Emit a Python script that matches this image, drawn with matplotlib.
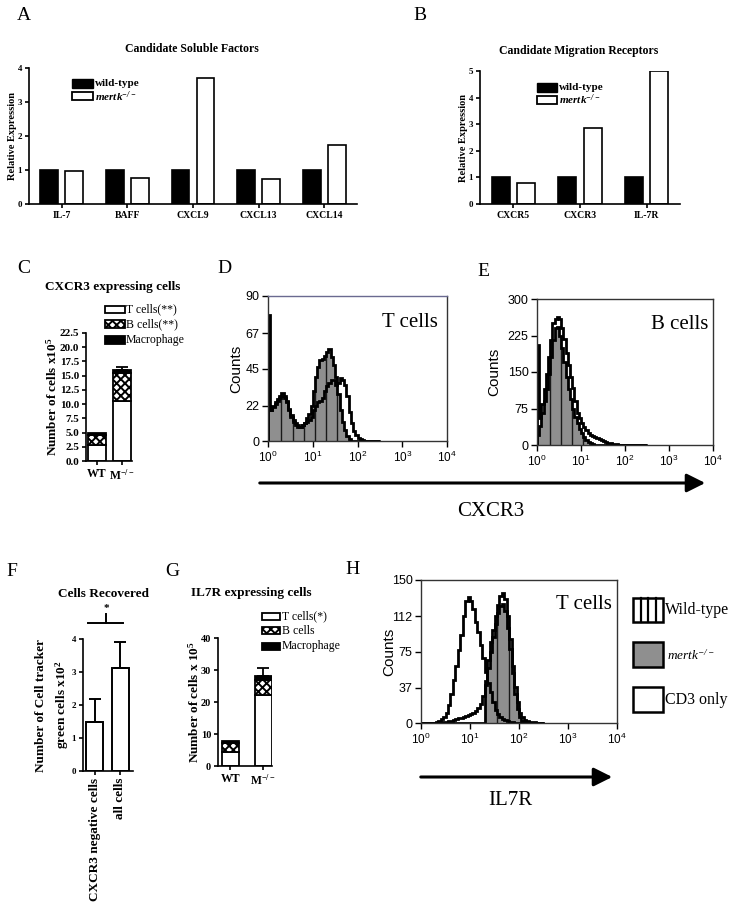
import numpy as np
import matplotlib
matplotlib.use('Agg')
import matplotlib.pyplot as plt
from matplotlib.patches import Rectangle
from matplotlib.lines import Line2D

plt.rcParams['font.family'] = 'Liberation Serif'
plt.rcParams['hatch.linewidth'] = 1.4
plt.rcParams['axes.linewidth'] = 1.2

W, H = 732, 914
SANS = 'Liberation Sans'
GREY = '#8f8f8f'

# ---- data ----
soluble = ['IL-7', 'BAFF', 'CXCL9', 'CXCL13', 'CXCL14']
soluble_wt = [1, 1, 1, 1, 1]
soluble_ko = [0.97, 0.77, 3.72, 0.75, 1.75]

receptors = ['CXCR5', 'CXCR3', 'IL-7R']
receptors_wt = [1, 1, 1]
receptors_ko = [0.8, 2.87, 5.0]

strains = ['WT', r'$\mathregular{M^{-/-}}$']
cxcr3_t = [2.75, 10.6]
cxcr3_b = [1.9, 4.8]
cxcr3_mac = [0.3, 0.6]
cxcr3_err = [0.0, 0.5]

recovered = ['CXCR3 negative cells', 'all cells']
recovered_mean = [1.5, 3.13]
recovered_err = [0.68, 0.78]

il7r_t = [4.4, 22.2]
il7r_b = [2.8, 4.7]
il7r_mac = [0.5, 1.2]
il7r_err = [0.0, 2.6]

# flow histograms, channel bins 10^0 .. 10^2.5
hist_edges = 10 ** np.linspace(0, 2.5, 51)
d_fill = [78, 19, 22, 24, 26, 28, 30, 28, 25, 20,
          16, 13, 11, 10, 9, 10, 11, 14, 17, 22,
          31, 40, 46, 50, 51, 53, 55, 57, 52, 47,
          40, 29, 19, 12, 7, 3, 1, 0, 0, 0,
          0, 0, 0, 0, 0, 0, 0, 0, 0, 0]
d_open = [20, 19, 21, 23, 25, 27, 28, 27, 24, 19,
          15, 12, 10, 9, 9, 10, 11, 12, 13, 15,
          19, 22, 24, 25, 27, 31, 34, 36, 38, 38,
          35, 36, 39, 38, 35, 28, 18, 11, 6, 4,
          2, 1, 0.5, 0, 0, 0, 0, 0, 0, 0]
e_fill = [20, 40, 65, 90, 115, 145, 180, 215, 240, 243,
          225, 200, 170, 140, 115, 95, 75, 58, 45, 32,
          24, 17, 11, 7, 4, 2, 1, 0, 0, 0,
          0, 0, 0, 0, 0, 0, 0, 0, 0, 0,
          0, 0, 0, 0, 0, 0, 0, 0, 0, 0]
e_open = [205, 55, 85, 115, 145, 180, 215, 250, 258, 262,
          258, 240, 218, 190, 165, 140, 118, 90, 65, 55,
          46, 38, 30, 25, 21, 19, 16, 14, 12, 10,
          8, 6, 5, 4, 3, 2, 2, 1, 1, 0.5,
          0, 0, 0, 0, 0, 0, 0, 0, 0, 0]
h_cd3 = [0, 0, 0, 0, 0, 0, 1, 2, 4, 6,
         11, 19, 30, 45, 60, 77, 92, 112, 128, 132,
         128, 120, 106, 95, 82, 68, 53, 42, 32, 22,
         14, 9, 6, 4, 3, 2, 1.5, 1, 0.5, 0,
         0, 0, 0, 0, 0, 0, 0, 0, 0, 0]
h_wt = [0, 0, 0, 0, 0, 0, 0, 0, 0, 1,
        1, 2, 2, 3, 4, 5, 5, 6, 7, 8,
        9, 11, 13, 16, 20, 28, 44, 66, 85, 98,
        112, 124, 133, 136, 130, 112, 88, 60, 38, 22,
        11, 6, 3, 2, 1.5, 1, 1, 0.5, 0, 0]
h_ko = [0, 0, 0, 0, 0, 0, 0, 0, 0, 0,
        0, 0, 0, 0, 0, 0, 0, 0, 0, 0,
        0, 0, 0, 0, 0, 0, 40, 58, 75, 90,
        104, 115, 123, 125, 118, 100, 78, 52, 30, 15,
        6, 2, 0, 0, 0, 0, 0, 0, 0, 0]

fig = plt.figure(figsize=(W / 100, H / 100), dpi=100)


def add_ax(l, r, t, b):
    return fig.add_axes([l / W, 1 - b / H, (r - l) / W, (b - t) / H])


def ftext(x, y, s, **kw):
    return fig.text(x / W, 1 - y / H, s, **kw)


def key(x0, y0, x1, y1, **kw):
    fig.add_artist(Rectangle((x0 / W, 1 - y1 / H), (x1 - x0) / W, (y1 - y0) / H,
                             transform=fig.transFigure, **kw))


def arrow(x0, x1, y):
    fig.add_artist(matplotlib.patches.FancyArrowPatch(
        (x0 / W, 1 - y / H), (x1 / W, 1 - y / H), transform=fig.transFigure,
        arrowstyle='-|>,head_length=0.8,head_width=0.4', mutation_scale=14,
        lw=2.2, color='black'))


def clean(ax):
    ax.spines['top'].set_visible(False)
    ax.spines['right'].set_visible(False)
    ax.tick_params(direction='out', length=3, width=1.2, pad=2)


# ---- A / B ----
def expr_panel(ax, names, wt, ko, ymax, lab_x):
    x = np.arange(len(names))
    ax.bar(x - 0.19, wt, 0.27, color='black', edgecolor='black', lw=1.2)
    ax.bar(x + 0.19, ko, 0.27, color='white', edgecolor='black', lw=1.2)
    ax.set_xlim(-0.5, len(names) - 0.5)
    ax.set_ylim(0, ymax)
    ax.set_xticks(x, names, fontsize=7, fontweight='bold')
    ax.set_yticks(range(ymax + 1), [str(v) for v in range(ymax + 1)],
                  fontsize=6.5, fontweight='bold')
    clean(ax)
    ax.set_ylabel('Relative Expression', fontsize=7.5, fontweight='bold')
    ax.yaxis.set_label_coords(lab_x, 0.5)


axA = add_ax(29, 357, 68, 204)
expr_panel(axA, soluble, soluble_wt, soluble_ko, 4, -0.036)
ftext(192, 52, 'Candidate Soluble Factors', fontsize=8.5, fontweight='bold', ha='center')
key(72, 79, 93, 88, fc='black', ec='black', lw=1)
key(72, 92, 93, 100, fc='white', ec='black', lw=1.3)
ftext(95, 84, 'wild-type', fontsize=8, fontweight='bold', va='center')
ftext(95, 96.5, r'$\mathregular{mertk^{-/-}}$', fontsize=8, fontweight='bold',
      style='italic', va='center')

axB = add_ax(480, 680, 71, 204)
expr_panel(axB, receptors, receptors_wt, receptors_ko, 5, -0.06)
ftext(579, 54, 'Candidate Migration Receptors', fontsize=8.5, fontweight='bold', ha='center')
key(537, 83, 557, 92, fc='black', ec='black', lw=1)
key(537, 96, 557, 104, fc='white', ec='black', lw=1.3)
ftext(559, 87.5, 'wild-type', fontsize=8, fontweight='bold', va='center')
ftext(559, 100, r'$\mathregular{mertk^{-/-}}$', fontsize=8, fontweight='bold',
      style='italic', va='center')


# ---- stacked bars C / G ----
def stacked(ax, t, b, mac, err, width, ymax, yticks, ylabels, ylab, lab_x, fs):
    x = np.arange(len(t))
    ax.bar(x, t, width, color='white', edgecolor='black', lw=1.3)
    ax.bar(x, b, width, bottom=t, color='white', edgecolor='black', hatch='xxxx', lw=1.3)
    top2 = np.add(t, b)
    ax.bar(x, mac, width, bottom=top2, color='black', edgecolor='black', lw=1.3)
    tot = top2 + np.array(mac)
    ax.errorbar(x[1:], tot[1:], yerr=[[0], err[1:]], fmt='none', ecolor='black',
                capsize=4, elinewidth=1.3, capthick=1.3)
    ax.set_ylim(0, ymax)
    ax.set_yticks(yticks, ylabels, fontsize=fs, fontweight='bold')
    ax.set_xticks(x, strains, fontsize=8.5, fontweight='bold')
    clean(ax)
    ax.set_ylabel(ylab, fontsize=9.5, fontweight='bold')
    ax.yaxis.set_label_coords(lab_x, 0.5)
    return ax


axC = add_ax(86, 132, 333, 461)
stacked(axC, cxcr3_t, cxcr3_b, cxcr3_mac, cxcr3_err, 0.72, 22.5,
        np.arange(0, 23, 2.5), ['%.1f' % v for v in np.arange(0, 23, 2.5)],
        r'Number of cells x10$\mathregular{^{5}}$', -0.57, 8)
axC.set_xlim(-0.44, 1.4)
ftext(113, 290, 'CXCR3 expressing cells', fontsize=9.5, fontweight='bold', ha='center')
key(105, 306, 125, 313, fc='white', ec='black', lw=1.3)
key(105, 320, 125, 328, fc='white', ec='black', lw=1.3, hatch='xxxx')
key(105, 336, 125, 344, fc='black', ec='black', lw=1.3)
ftext(126, 309.5, 'T cells(**)', fontsize=8.5, va='center')
ftext(126, 324, 'B cells(**)', fontsize=8.5, va='center')
ftext(126, 340, 'Macrophage', fontsize=8.5, va='center')

axG = add_ax(218, 272, 638, 766)
stacked(axG, il7r_t, il7r_b, il7r_mac, il7r_err, 0.5, 40,
        [0, 10, 20, 30, 40], ['0', '10', '20', '30', '40'],
        r'Number of cells x 10$\mathregular{^{5}}$', -0.3, 7.5)
axG.set_xlim(-0.37, 1.26)
ftext(251, 596, 'IL7R expressing cells', fontsize=9.5, fontweight='bold', ha='center')
key(262, 613, 280, 620, fc='white', ec='black', lw=1.3)
key(262, 627, 280, 634, fc='white', ec='black', lw=1.3, hatch='xxxx')
key(262, 643, 280, 650, fc='black', ec='black', lw=1.3)
ftext(282, 616.5, 'T cells(*)', fontsize=8.5, va='center')
ftext(282, 630.5, 'B cells', fontsize=8.5, va='center')
ftext(282, 646.5, 'Macrophage', fontsize=8.5, va='center')

# ---- F ----
axF = add_ax(83, 133, 639, 771)
xf = np.arange(len(recovered))
axF.bar(xf, recovered_mean, 0.67, color='white', edgecolor='black', lw=1.4)
axF.errorbar(xf, recovered_mean, yerr=[np.zeros(len(xf)), recovered_err], fmt='none',
             ecolor='black', capsize=4.5, elinewidth=1.4, capthick=1.4)
axF.set_xlim(-0.45, 1.5)
axF.set_ylim(0, 4)
axF.set_yticks(range(5), [str(v) for v in range(5)], fontsize=6.5, fontweight='bold')
axF.set_xticks(xf, recovered, fontsize=9.5, fontweight='bold', rotation=90)
clean(axF)
axF.set_ylabel('Number of Cell tracker\n' + r'green cells x10$\mathregular{^{2}}$',
               fontsize=9.5, fontweight='bold', linespacing=1.5)
axF.yaxis.set_label_coords(-0.24, 0.5)
axF.plot([-0.25, 1.12], [4.48, 4.48], color='black', lw=1.4, clip_on=False)
axF.plot([0.45, 0.45], [4.48, 4.76], color='black', lw=1.4, clip_on=False)
axF.text(0.45, 4.78, '*', fontsize=8, fontweight='bold', ha='center', va='bottom')
ftext(104, 597, 'Cells Recovered', fontsize=9.5, fontweight='bold', ha='center')

# ---- flow histograms ----
stripe_x = 10 ** np.arange(0.3, 2.5, 0.25)


def hist_panel(ax, fills, opens, ymax, yticks, name, name_xy, lab_x):
    ax.set_xscale('log')
    for c in fills:
        p = ax.stairs(c, hist_edges, fill=True, facecolor=GREY, edgecolor='none', zorder=1)
        vl = ax.vlines(stripe_x, 0, ymax, colors='#1a1a1a', lw=1.0, zorder=1.5)
        vl.set_clip_path(p)
    for c in fills + opens:
        ax.stairs(c, hist_edges, color='black', lw=2.0, zorder=2)
    ax.set_xlim(1, 1e4)
    ax.set_ylim(0, ymax)
    ax.xaxis.set_minor_locator(matplotlib.ticker.NullLocator())
    ax.set_xticks([1, 10, 100, 1000, 10000],
                  [r'$\mathregular{10^{%d}}$' % i for i in range(5)],
                  fontsize=8.5, fontfamily=SANS)
    ax.set_yticks(yticks, [str(v) for v in yticks], fontsize=9, fontfamily=SANS)
    ax.tick_params(direction='out', length=4, width=1.0, pad=2)
    for s in ax.spines.values():
        s.set_linewidth(1.0)
        s.set_color('#333333')
    ax.set_ylabel('Counts', fontsize=11, fontfamily=SANS)
    ax.yaxis.set_label_coords(lab_x, 0.5)
    ftext(name_xy[0], name_xy[1], name, fontsize=15, ha='right')


axD = add_ax(268, 447, 296, 441)
hist_panel(axD, [d_fill], [d_open], 90, [0, 22, 45, 67, 90], 'T cells', (438, 327), -0.14)
axD.spines['top'].set_color('#6a6a90')

axE = add_ax(537, 713, 299, 445)
hist_panel(axE, [e_fill], [e_open], 300, [0, 75, 150, 225, 300], 'B cells', (708, 329), -0.205)

axH = add_ax(421, 617, 580, 723)
hist_panel(axH, [h_ko], [h_wt, h_cd3], 150, [0, 37, 75, 112, 150], 'T cells', (612, 609), -0.125)

arrow(257, 708, 483)
ftext(491, 516, 'CXCR3', fontsize=15, ha='center')
arrow(418, 615, 777)
ftext(510, 805, 'IL7R', fontsize=15, ha='center')

# H legend
key(633, 598, 663, 622, fc='white', ec='black', lw=1.8)
for xv in (640.5, 648, 655.5):
    fig.add_artist(Line2D([xv / W, xv / W], [1 - 598 / H, 1 - 622 / H],
                          transform=fig.transFigure, color='black', lw=1.6))
key(633, 642, 663, 667, fc=GREY, ec='black', lw=1.8)
key(633, 687, 663, 712, fc='white', ec='black', lw=1.8)
ftext(665, 610, 'Wild-type', fontsize=11.5, va='center')
ftext(667, 655, r'$\mathregular{mertk^{-/-}}$', fontsize=9.5, style='italic', va='center')
ftext(665, 700, 'CD3 only', fontsize=11.5, va='center')

# panel letters
for lab, x, y in [('A', 17, 20), ('B', 413, 20), ('C', 17, 273), ('D', 217, 273),
                  ('E', 477, 276), ('F', 6, 576), ('G', 165, 576), ('H', 345, 574)]:
    ftext(x, y, lab, fontsize=14)

fig.savefig('out.png', dpi=100)
